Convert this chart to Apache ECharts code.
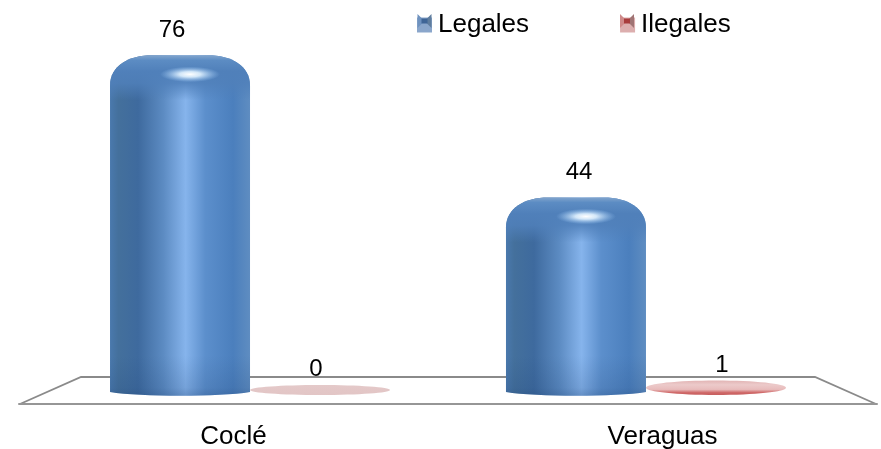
<!DOCTYPE html>
<html><head><meta charset="utf-8">
<style>html,body{margin:0;padding:0;background:#fff}#c{width:881px;height:449px}</style>
<script src="https://cdn.jsdelivr.net/npm/echarts@6/dist/echarts.min.js"></script>
</head><body><div id="c"></div>
<script>
const categories = ['Coclé', 'Veraguas'];
const legales = [76, 44];
const ilegales = [0, 1];

const FONT = '"Liberation Sans", Arial, sans-serif';
const G = echarts.graphic;
const linear = (x, y, x2, y2, stops) => new G.LinearGradient(x, y, x2, y2, stops.map(s => ({offset: s[0], color: s[1]})));

// Perspective of the 3-D floor: bars lean towards the middle of the picture.
function barCentre(px, dir) {
  const midX = 448;
  return px + (midX - px) * 0.077 + dir * 70;
}
const labelShift = {legal: [-8, 3], illegal: [-4, 6]};

function renderLegal(params, api) {
  const i = api.value(0), v = api.value(1);
  const p = api.coord([i, v]), base = api.coord([i, 0]);
  const cx = barCentre(p[0], -1), hw = 70, top = p[1], bot = base[1] - 2;
  const rx = 42, ry = 30, by = 4;
  const l = cx - hw, r = cx + hw;
  const d = `M${l} ${top + ry} C${l} ${top + ry * 0.35} ${l + rx * 0.45} ${top} ${l + rx} ${top} L${r - rx} ${top} C${r - rx * 0.45} ${top} ${r} ${top + ry * 0.35} ${r} ${top + ry} L${r} ${bot} C${r - 30} ${bot + by + 1} ${l + 30} ${bot + by + 1} ${l} ${bot} Z`;
  const h = bot + by + 0.75 - top;
  const body = () => ({type: 'path', shape: {pathData: d, layout: 'cover', x: l, y: top, width: 2 * hw, height: h}});
  const f = px => Math.min(1, px / h);
  return {type: 'group', children: [
    {...body(), style: {fill: linear(0, 0, 1, 0, [
      [0, '#4a79ad'], [0.06, '#44709c'], [0.2, '#3e6a9e'], [0.38, '#5c8bc2'], [0.54, '#86b4ec'],
      [0.68, '#5c8fcc'], [0.88, '#4b7fbd'], [1, '#5f8dc1']])}},
    {...body(), style: {fill: linear(0, 0, 0, 1, [
      [0, 'rgba(130,165,205,1)'],
      [f(5), 'rgba(92,140,195,1)'],
      [f(16), 'rgba(80,128,186,1)'],
      [f(28), 'rgba(80,128,186,0.85)'],
      [f(45), 'rgba(80,128,186,0)'],
      [1, 'rgba(80,128,186,0)']])}},
    {...body(), style: {fill: linear(0, 0, 0, 1, [
      [0, 'rgba(25,60,110,0)'], [1 - f(40), 'rgba(25,60,110,0)'],
      [1 - f(8), 'rgba(25,60,110,0.15)'], [1, 'rgba(25,60,110,0.3)']])}},
    {type: 'circle', x: cx + 10, y: top + 19, scaleX: 1, scaleY: 0.26, shape: {cx: 0, cy: 0, r: 30},
      style: {fill: new G.RadialGradient(0.5, 0.5, 0.5, [
        {offset: 0, color: 'rgba(255,255,255,1)'}, {offset: 0.35, color: 'rgba(225,242,255,0.9)'},
        {offset: 1, color: 'rgba(160,205,250,0)'}])}},
    {type: 'text', x: cx + labelShift.legal[i], y: top - 25,
      style: {text: String(v), font: `24px ${FONT}`, fill: '#000', align: 'center', verticalAlign: 'middle'}}
  ]};
}

function renderIllegal(params, api) {
  const i = api.value(0), v = api.value(1);
  const p = api.coord([i, v]), base = api.coord([i, 0]);
  const cx = barCentre(p[0], 1), rx = 70, top = p[1] - 8, bot = base[1] + 2;
  const ell = {cx, cy: (top + bot) / 2, rx, ry: (bot - top) / 2};
  const fill = v > 0
    ? linear(0, 0, 0, 1, [[0, '#e2b4b4'], [0.3, '#eccaca'], [0.62, '#e8bcbc'], [0.85, '#cf6666'], [1, '#c66060']])
    : linear(0, 0, 0, 1, [[0, '#e4c9c9'], [1, '#e2c5c5']]);
  return {type: 'group', children: [
    {type: 'ellipse', shape: ell, style: {fill}},
    {type: 'text', x: cx + labelShift.illegal[i], y: v > 0 ? top - 15 : top - 16,
      style: {text: String(v), font: `24px ${FONT}`, fill: '#000', align: 'center', verticalAlign: 'middle'}}
  ]};
}

function legendMark(x, y, side, mid, core) {
  return [
    {type: 'polygon', z: 100, silent: true, shape: {points: [[x, y], [x + 7, y + 7], [x, y + 14]]}, style: {fill: mid}},
    {type: 'polygon', z: 100, silent: true, shape: {points: [[x + 14, y], [x + 7, y + 7], [x + 14, y + 14]]}, style: {fill: side}},
    {type: 'rect', z: 101, silent: true, shape: {x: x + 4, y: y + 4.5, width: 6, height: 5}, style: {fill: core}}
  ];
}

const chart = echarts.init(document.getElementById('c'), null, {renderer: 'canvas'});
const edge = '#8a8a8a';
chart.setOption({
  animation: false,
  backgroundColor: '#fff',
  grid: {left: 19, right: 4, top: 30, bottom: 45, outerBoundsMode: 'none', containLabel: false},
  legend: {
    left: 412, top: 7, selectedMode: false, itemWidth: 15, itemHeight: 15, itemGap: 91,
    textStyle: {fontFamily: FONT, fontSize: 26, color: '#000', padding: [0, 0, 0, 1]},
    data: [
      {name: 'Legales', icon: 'rect', itemStyle: {color: '#8aa6cb'}},
      {name: 'Ilegales', icon: 'rect', itemStyle: {color: '#dcaeae'}}
    ]
  },
  xAxis: {
    type: 'category', data: categories,
    axisLine: {onZero: false, lineStyle: {color: '#969696', width: 2}},
    axisTick: {show: false},
    axisLabel: {fontFamily: FONT, fontSize: 26, color: '#000', margin: 20}
  },
  yAxis: {type: 'value', min: -2.5, max: 81.7, show: false},
  graphic: [
    {type: 'polyline', z: 0, silent: true, shape: {points: [[20, 404], [81, 377], [815, 377], [876, 404]]},
      style: {stroke: edge, lineWidth: 1.8, fill: null}},
    ...legendMark(417.5, 14, '#5f7d9e', '#6f92bf', '#3f6596'),
    ...legendMark(620, 14, '#a07474', '#cf8a8a', '#a83c3c')
  ],
  series: [
    {name: 'Legales', type: 'custom', renderItem: renderLegal, clip: false, silent: true,
      encode: {x: 0, y: 1}, data: legales.map((v, i) => [i, v]), z: 3},
    {name: 'Ilegales', type: 'custom', renderItem: renderIllegal, clip: false, silent: true,
      encode: {x: 0, y: 1}, data: ilegales.map((v, i) => [i, v]), z: 2}
  ]
});
</script></body></html>
